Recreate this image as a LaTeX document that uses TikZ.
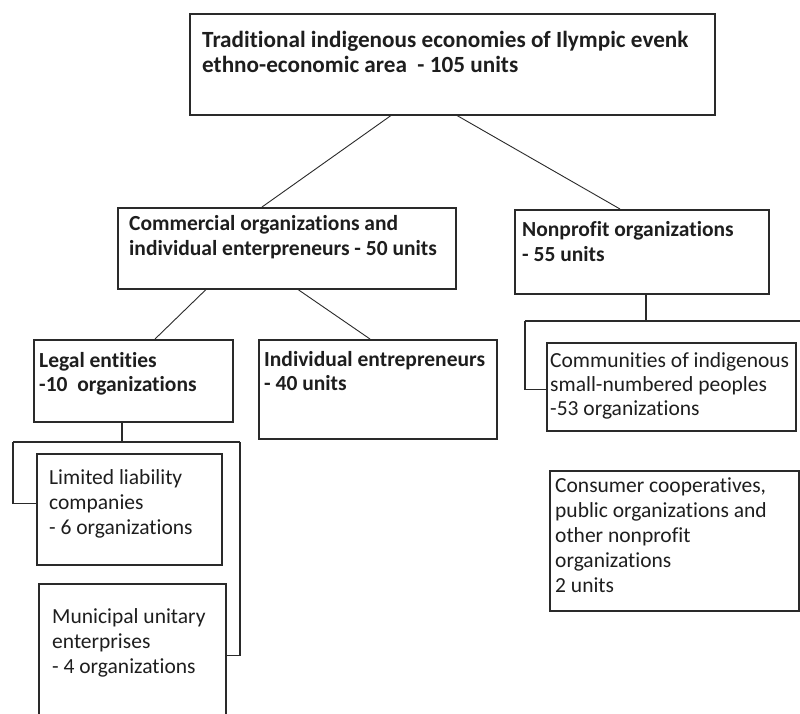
\documentclass[tikz,border=0pt]{standalone}
\usepackage{fontspec}
\setmainfont{Carlito}[Ligatures=NoCommon]
\usetikzlibrary{calc}
\definecolor{ink}{HTML}{2A2A2A}
\definecolor{txt}{HTML}{1E1E1E}
\begin{document}
\begin{tikzpicture}[x=1pt,y=-1pt,
  box/.style={draw=ink, line width=1.5pt, inner sep=0pt, anchor=north west},
  conn/.style={draw=ink, line width=1.4pt},
  diag/.style={draw=ink, line width=0.9pt},
  btxt/.style={anchor=base west, inner sep=0pt, align=left, text=txt, font=\bfseries\fontsize{21.5}{25}\selectfont},
  rtxt/.style={anchor=base west, inner sep=0pt, align=left, text=txt, font=\fontsize{21.5}{25}\selectfont}]
\useasboundingbox[fill=white] (0,0) rectangle (800,713);
\clip (0,0) rectangle (800,713);

% boxes
\node[box, minimum width=525pt, minimum height=101pt] (top) at (189,13) {};
\node[box, minimum width=338pt, minimum height=81pt] (com) at (117,207) {};
\node[box, minimum width=254pt, minimum height=84pt] (np) at (514,209) {};
\node[box, minimum width=199pt, minimum height=82pt] (legal) at (33,339) {};
\node[box, minimum width=238pt, minimum height=99pt] (ind) at (258,339) {};
\node[box, minimum width=185pt, minimum height=111pt] (ltd) at (36,453) {};
\node[box, minimum width=187pt, minimum height=157pt] (mun) at (38,583) {};
\node[box, minimum width=249pt, minimum height=88pt] (comm) at (546,342) {};
\node[box, minimum width=249pt, minimum height=140pt] (cons) at (549,470) {};

% texts (anchored at the baseline of their last line)
\node[btxt, font=\bfseries\fontsize{23.2}{25}\selectfont] (ttop) at (202,72) {Traditional indigenous economies of Ilympic evenk\\ethno-economic area~ - 105 units};
\node[btxt] (tcom) at (129,255) {Commercial organizations and\\individual enterpreneurs - 50 units};
\node[btxt] (tnp) at (522,261) {Nonprofit organizations\\- 55 units};
\node[btxt, font=\bfseries\fontsize{21.5}{24}\selectfont] (tlegal) at (39,391) {Legal entities\\-10~ organizations};
\node[btxt, font=\bfseries\fontsize{21.5}{24}\selectfont] (tind) at (264,390) {Individual entrepreneurs\\- 40 units};
\node[rtxt] (tltd) at (49,534) {Limited liability\\companies\\- 6 organizations};
\node[rtxt] (tmun) at (52,673) {Municipal unitary\\enterprises\\- 4 organizations};
\node[rtxt, font=\fontsize{21.5}{24}\selectfont] (tcomm) at (550,415) {Communities of indigenous\\small-numbered peoples\\-53 organizations};
\node[rtxt] (tcons) at (555,592) {Consumer cooperatives,\\public organizations and\\other nonprofit\\organizations\\2 units};

% junction coordinates
\coordinate (jl) at (122,442);
\coordinate (jll) at (13,442);
\coordinate (jlr) at (240,442);
\coordinate (jn) at (646,321);
\coordinate (jnl) at (525,321);
\coordinate (jnr) at (803,321);

% connectors
\draw[diag] ([xshift=202pt]top.south west) -- ([xshift=145pt]com.north west);
\draw[diag] ([xshift=268pt]top.south west) -- ([xshift=106pt]np.north west);
\draw[diag] ([xshift=89pt]com.south west) -- ([xshift=122pt]legal.north west);
\draw[diag] ([xshift=181pt]com.south west) -- ([xshift=112pt]ind.north west);

\draw[conn] ([xshift=89pt]legal.south west) -- (jl);
\draw[conn] (jll) -- (jlr);
\draw[conn] (jll) |- ([yshift=6pt]ltd.west);
\draw[conn] (jlr) |- ([yshift=7pt]mun.east);

\draw[conn] ([xshift=132pt]np.south west) -- (jn);
\draw[conn] (jnl) -- (jnr);
\draw[conn] (jnl) |- ([yshift=-3pt]comm.west);
\draw[conn] (jnr) |- ([yshift=17pt]cons.east);
\end{tikzpicture}
\end{document}
